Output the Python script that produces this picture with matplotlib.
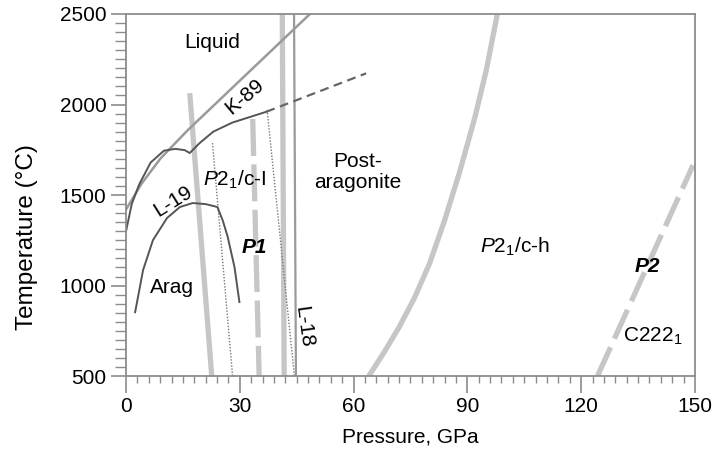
import matplotlib
matplotlib.use("Agg")
import matplotlib.pyplot as plt
from matplotlib.ticker import MultipleLocator

plt.rcParams['font.family'] = ['Liberation Sans', 'DejaVu Sans']
plt.rcParams['mathtext.fontset'] = 'custom'
plt.rcParams['mathtext.rm'] = 'Liberation Sans'
plt.rcParams['mathtext.it'] = 'Liberation Sans:italic'
plt.rcParams['mathtext.bf'] = 'Liberation Sans:bold'

# phase boundaries, pressure (GPa) / temperature (C)
k89_p = [0, 4, 9, 16.3, 48.5]
k89_t = [1420, 1560, 1700, 1859, 2500]

melt_p = [0, 1.5, 3.5, 6.5, 10, 13, 15.5, 16.8, 19.4, 23, 28, 37]
melt_t = [1300, 1450, 1560, 1680, 1745, 1755, 1748, 1732, 1787, 1850, 1900, 1960]
melt_dash_p = [37, 63.3]
melt_dash_t = [1960, 2172]

l19_p = [2.4, 4.5, 7.1, 10.8, 14.2, 17.6, 21, 24.1, 25.5, 26.8, 28.6, 29.9]
l19_t = [853, 1086, 1251, 1373, 1434, 1456, 1450, 1434, 1360, 1270, 1102, 909]

arag_p = [16.8, 22.6]
arag_t = [2063, 500]

dot1_p = [22.8, 28.1]
dot1_t = [1787, 500]

dot2_p = [37.2, 44.4]
dot2_t = [1970, 500]

p1_p = [33.4, 35.1]
p1_t = [1920, 500]

thick_v_p = [41.2, 41.7]
thick_v_t = [2500, 500]

l18_p = [44.3, 44.8]
l18_t = [2500, 500]

post_p = [64, 68, 72, 76, 80, 84, 88, 92, 95, 97.9]
post_t = [500, 630, 770, 930, 1120, 1360, 1630, 1930, 2190, 2500]

p2_p = [124.3, 149.5]
p2_t = [500, 1665]

light = '#c6c6c6'
mid = '#9a9a9a'
dark = '#555555'

fig = plt.figure(figsize=(7.12, 4.51), dpi=100)
ax = fig.add_axes([0.177, 0.166, 0.799, 0.803])

ax.plot(arag_p, arag_t, color=light, lw=3.8, solid_capstyle='butt')
ax.plot(thick_v_p, thick_v_t, color=light, lw=3.8, solid_capstyle='butt')
ax.plot(post_p, post_t, color=light, lw=3.8, solid_capstyle='butt')
ax.plot(p1_p, p1_t, color=light, lw=3.8, dashes=(7, 1.6))
ax.plot(p2_p, p2_t, color=light, lw=3.8, dashes=(6, 1.8))
ax.plot(l18_p, l18_t, color=mid, lw=1.6)
ax.plot(k89_p, k89_t, color=mid, lw=1.8)
ax.plot(dot1_p, dot1_t, color='#777777', lw=1.0, ls=(0, (1, 1.2)))
ax.plot(dot2_p, dot2_t, color='#777777', lw=1.0, ls=(0, (1, 1.2)))
ax.plot(melt_p, melt_t, color=dark, lw=1.4)
ax.plot(melt_dash_p, melt_dash_t, color='#666666', lw=1.6, dashes=(4, 2.5))
ax.plot(l19_p, l19_t, color=dark, lw=1.4)

fs = 15
ax.text(22.6, 2340, 'Liquid', fontsize=fs, ha='center', va='center')
ax.text(31.2, 2041, 'K-89', fontsize=fs, ha='center', va='center', rotation=40)
ax.text(12.3, 1465, 'L-19', fontsize=fs, ha='center', va='center', rotation=32)
ax.text(28.6, 1583, r'$P2_1$/c-I', fontsize=fs, ha='center', va='center')
ax.text(61.1, 1627, 'Post-\naragonite', fontsize=fs, ha='center', va='center',
        linespacing=1.1)
ax.text(33.8, 1213, 'P1', fontsize=fs, ha='center', va='center',
        fontweight='bold', style='italic')
ax.text(12.1, 992, 'Arag', fontsize=fs, ha='center', va='center')
ax.text(46.9, 771, 'L-18', fontsize=fs, ha='center', va='center', rotation=-82)
ax.text(102.5, 1213, r'$P2_1$/c-h', fontsize=fs, ha='center', va='center')
ax.text(137.4, 1108, 'P2', fontsize=fs, ha='center', va='center',
        fontweight='bold', style='italic')
ax.text(139, 721, r'C222$_1$', fontsize=fs, ha='center', va='center')

ax.set_xlim(0, 150)
ax.set_ylim(500, 2500)
ax.xaxis.set_major_locator(MultipleLocator(30))
ax.xaxis.set_minor_locator(MultipleLocator(3))
ax.yaxis.set_major_locator(MultipleLocator(500))
ax.yaxis.set_minor_locator(MultipleLocator(50))

for s in ax.spines.values():
    s.set_color('#8c8c8c')
    s.set_linewidth(1.3)

ax.tick_params(axis='x', which='major', direction='out', length=12, width=1.2,
               color='#8c8c8c', labelsize=15, pad=3)
ax.tick_params(axis='x', which='minor', direction='out', length=5, width=1.0,
               color='#8c8c8c')
ax.tick_params(axis='y', which='major', direction='out', length=11, width=1.2,
               color='#8c8c8c', labelsize=15, pad=3)
ax.tick_params(axis='y', which='minor', direction='out', length=8, width=1.0,
               color='#8c8c8c')

ax.set_xlabel('Pressure, GPa', fontsize=15, labelpad=8)
ax.set_ylabel('Temperature (°C)', fontsize=17.5)
ax.yaxis.set_label_coords(-0.154, 0.384)

fig.savefig('out.png', dpi=100)
